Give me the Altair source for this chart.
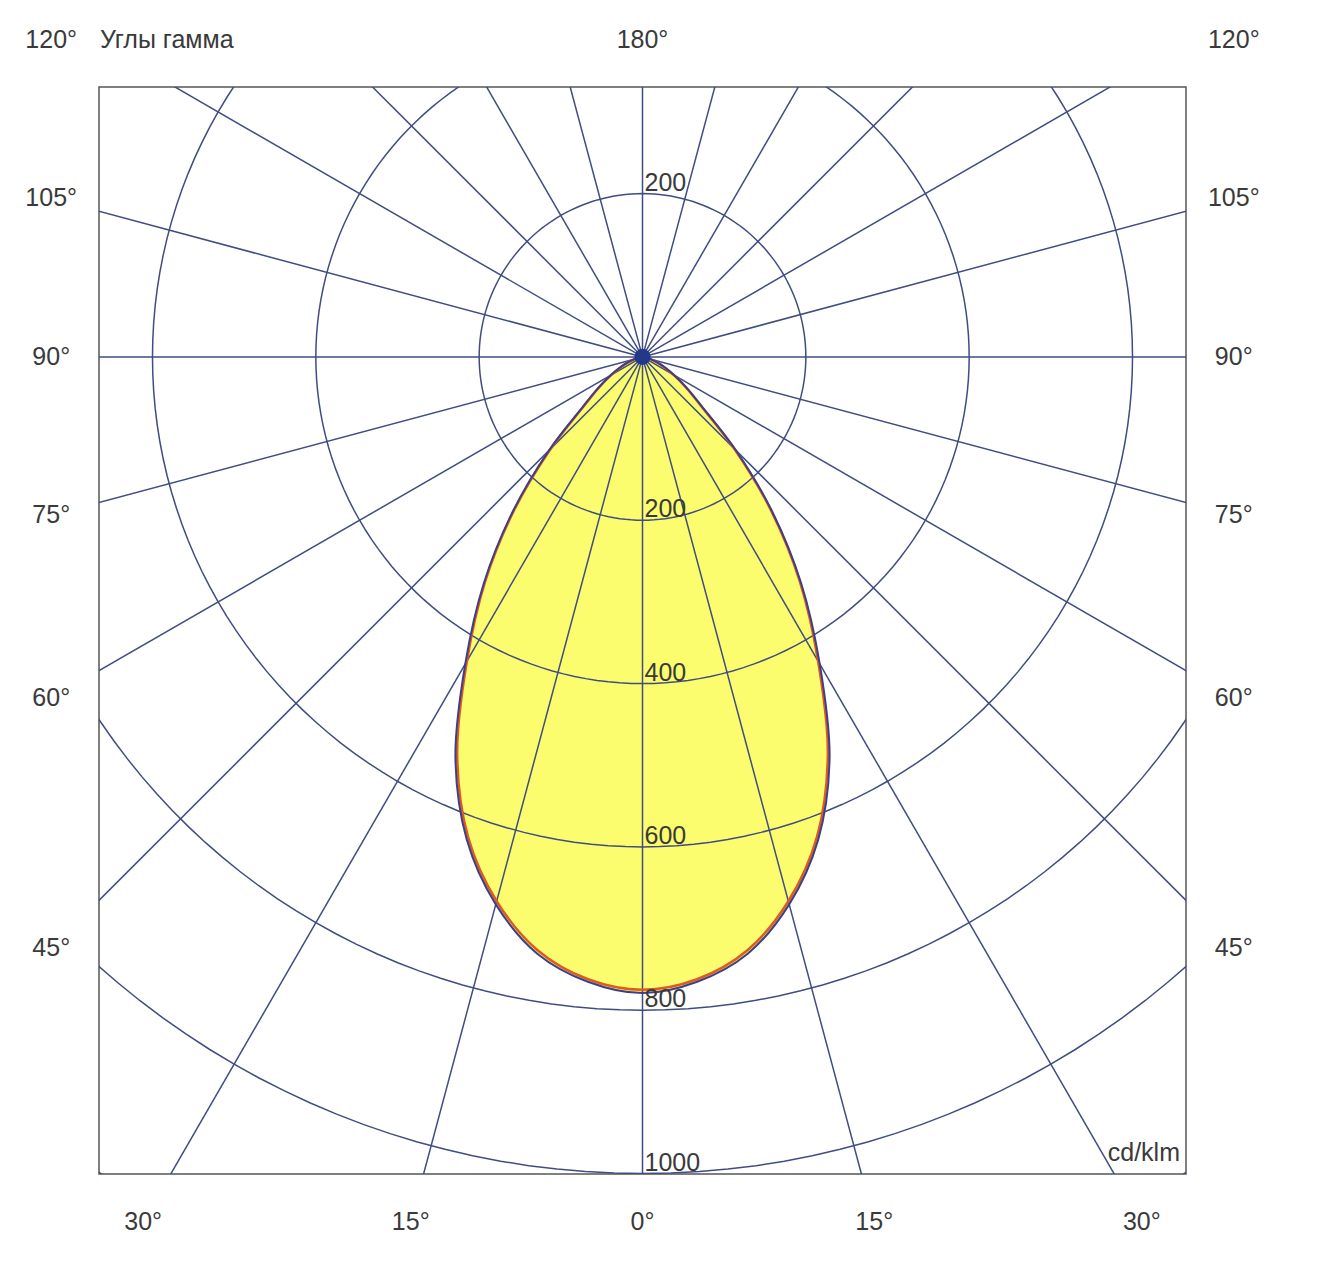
import math
import altair as alt
import pandas as pd

# ---- data ----
gamma = [0, 5, 10, 15, 20, 25, 30, 35, 40, 45, 50, 55, 60, 65, 70, 75, 80, 85, 90]
i_c0_c180 = [775, 765, 738, 690, 625, 537, 430, 336, 244, 159, 94, 65, 44, 29, 18, 10, 5, 2, 0]
i_c90_c270 = [779, 768, 742, 694, 629, 542, 434, 339, 247, 162, 96, 66, 45, 30, 18, 10, 5, 2, 0]
ring_values = [200, 400, 600, 800, 1000, 1200]
spoke_angles = list(range(0, 360, 15))
side_label_angles = [45, 60, 75, 90, 105, 120]
bottom_label_angles = [0, 15, 30]
top_label = "180°"
ring_labels_below = [200, 400, 600, 800, 1000]
ring_labels_above = [200]
title_text = "Углы гамма"
unit_text = "cd/klm"

# ---- layout ----
XMIN, XMAX = -665.5, 665.5
YMIN, YMAX = -1000.5, 330.5
W = H = 1087
LAB_X = 724      # column of side angle labels (data units)
LAB_BOTTOM = -1059
LAB_TOP = 388
FONT = "Liberation Sans, Arial, sans-serif"
FS = 25
TXT = "#3a3a3a"
GRID = "#3f4d80"

xs = alt.Scale(domain=[XMIN, XMAX], nice=False, zero=False)
ys = alt.Scale(domain=[YMIN, YMAX], nice=False, zero=False)


def curve_df(vals):
    rows = []
    n = len(gamma)
    for j in range(n - 1, -1, -1):
        rows.append((-gamma[j], vals[j]))
    for j in range(1, n):
        rows.append((gamma[j], vals[j]))
    out = []
    for k, (g, v) in enumerate(rows):
        a = math.radians(g)
        out.append({"k": k, "x": v * math.sin(a), "y": -v * math.cos(a)})
    return pd.DataFrame(out)


blue_df = curve_df(i_c90_c270)
red_df = curve_df(i_c0_c180)

fill = alt.Chart(blue_df).mark_line(
    interpolate="catmull-rom", fill="#fcfc6f", fillOpacity=1, strokeOpacity=0, clip=True
).encode(
    x=alt.X("x:Q", scale=xs, axis=None),
    y=alt.Y("y:Q", scale=ys, axis=None),
    order="k:Q",
)

# rings
ring_rows = []
for r in ring_values:
    for t in range(0, 361, 2):
        a = math.radians(t)
        ring_rows.append({"ring": r, "t": t, "x": r * math.sin(a), "y": r * math.cos(a)})
rings = alt.Chart(pd.DataFrame(ring_rows)).mark_line(
    clip=True, color=GRID, strokeWidth=1.5
).encode(
    x=alt.X("x:Q", scale=xs, axis=None),
    y=alt.Y("y:Q", scale=ys, axis=None),
    detail="ring:N",
    order="t:Q",
)

# spokes
L = 1600
spoke_df = pd.DataFrame([
    {"x": 0.0, "y": 0.0, "x2": L * math.sin(math.radians(a)), "y2": -L * math.cos(math.radians(a))}
    for a in spoke_angles
])
spokes = alt.Chart(spoke_df).mark_rule(clip=True, color=GRID, strokeWidth=1.5).encode(
    x=alt.X("x:Q", scale=xs, axis=None),
    y=alt.Y("y:Q", scale=ys, axis=None),
    x2="x2:Q",
    y2="y2:Q",
)

red = alt.Chart(red_df).mark_line(
    interpolate="catmull-rom", color="#dd5a22", strokeWidth=2.5, clip=True
).encode(
    x=alt.X("x:Q", scale=xs, axis=None),
    y=alt.Y("y:Q", scale=ys, axis=None),
    order="k:Q",
)
blue = alt.Chart(blue_df).mark_line(
    interpolate="catmull-rom", color="#3b3f8c", strokeWidth=2, clip=True
).encode(
    x=alt.X("x:Q", scale=xs, axis=None),
    y=alt.Y("y:Q", scale=ys, axis=None),
    order="k:Q",
)

dot = alt.Chart(pd.DataFrame({"x": [0], "y": [0]})).mark_circle(
    size=260, color="#22398a", opacity=1
).encode(
    x=alt.X("x:Q", scale=xs, axis=None),
    y=alt.Y("y:Q", scale=ys, axis=None),
)

# angle labels
lab = []
for g in side_label_angles:
    a = math.radians(g)
    y = -LAB_X * math.cos(a) / math.sin(a)
    y = min(y, LAB_TOP)
    for side in (-1, 1):
        lab.append({"t": f"{g}°", "x": side * LAB_X, "y": y})
for g in bottom_label_angles:
    dx = -LAB_BOTTOM * math.tan(math.radians(g))
    sides = (1,) if g == 0 else (-1, 1)
    for side in sides:
        lab.append({"t": f"{g}°", "x": side * dx, "y": LAB_BOTTOM})
lab.append({"t": top_label, "x": 0, "y": LAB_TOP})
angle_text = alt.Chart(pd.DataFrame(lab)).mark_text(
    font=FONT, fontSize=FS, color=TXT, align="center", baseline="middle", clip=False
).encode(
    x=alt.X("x:Q", scale=xs, axis=None),
    y=alt.Y("y:Q", scale=ys, axis=None),
    text="t:N",
)

rl = [{"t": str(v), "x": 0, "y": -v} for v in ring_labels_below] + \
     [{"t": str(v), "x": 0, "y": v} for v in ring_labels_above]
ring_text = alt.Chart(pd.DataFrame(rl)).mark_text(
    font=FONT, fontSize=FS, color=TXT, align="left", baseline="alphabetic", dx=2, dy=-3
).encode(
    x=alt.X("x:Q", scale=xs, axis=None),
    y=alt.Y("y:Q", scale=ys, axis=None),
    text="t:N",
)

title = alt.Chart(pd.DataFrame({"t": [title_text], "x": [XMIN], "y": [LAB_TOP]})).mark_text(
    font=FONT, fontSize=FS, color=TXT, align="left", baseline="middle", dx=1, clip=False
).encode(
    x=alt.X("x:Q", scale=xs, axis=None),
    y=alt.Y("y:Q", scale=ys, axis=None),
    text="t:N",
)

unit = alt.Chart(pd.DataFrame({"t": [unit_text], "x": [XMAX], "y": [YMIN]})).mark_text(
    font=FONT, fontSize=FS, color=TXT, align="right", baseline="bottom", dx=-6, dy=-8
).encode(
    x=alt.X("x:Q", scale=xs, axis=None),
    y=alt.Y("y:Q", scale=ys, axis=None),
    text="t:N",
)

chart = alt.layer(
    fill, rings, spokes, red, blue, dot, angle_text, ring_text, title, unit
).properties(
    width=W,
    height=H,
    padding={"left": 91, "top": 79, "right": 120, "bottom": 90},
    autosize=alt.AutoSizeParams(type="none"),
    background="white",
).configure_view(stroke="#555555", strokeWidth=1.5)

chart.save("out.html", embed_options={"renderer": "svg", "actions": False})
